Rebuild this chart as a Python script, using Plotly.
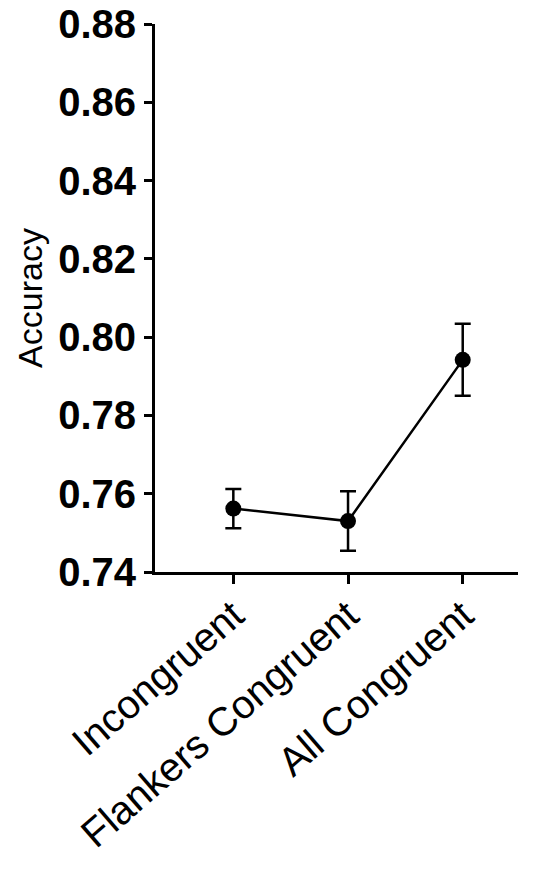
import plotly.graph_objects as go

categories = ["Incongruent", "Flankers Congruent", "All Congruent"]
accuracy = [0.7562, 0.7530, 0.7942]
sem = [0.0050, 0.0076, 0.0092]
y_ticks = [0.74, 0.76, 0.78, 0.80, 0.82, 0.84, 0.86, 0.88]

FONT = "Liberation Sans, Arial, sans-serif"

fig = go.Figure()
fig.add_trace(go.Scatter(
    x=list(range(len(categories))),
    y=accuracy,
    mode="lines+markers",
    line=dict(color="black", width=2.5),
    marker=dict(color="black", size=16),
    error_y=dict(type="data", array=sem, visible=True, color="black", thickness=2.5, width=8),
    showlegend=False,
))

fig.update_layout(
    width=533, height=874,
    margin=dict(l=155, r=15, t=24, b=302),
    plot_bgcolor="white", paper_bgcolor="white",
    font=dict(family=FONT, color="black"),
    xaxis=dict(
        range=[-0.683, 2.482],
        tickmode="array", tickvals=list(range(len(categories))), ticktext=categories,
        tickangle=-41,
        tickfont=dict(family=FONT, size=40, color="black"),
        ticklabelstandoff=-8,
        showline=True, linecolor="black", linewidth=3,
        ticks="outside", ticklen=9, tickwidth=3, tickcolor="black",
        showgrid=False, zeroline=False, automargin=False,
    ),
    yaxis=dict(
        range=[0.74, 0.88],
        tickmode="array", tickvals=y_ticks, ticktext=[f"{v:.2f}" for v in y_ticks],
        tickfont=dict(family=FONT, size=40, color="black", weight="bold"),
        showline=True, linecolor="black", linewidth=3,
        ticks="outside", ticklen=8, tickwidth=3, tickcolor="black",
        showgrid=False, zeroline=False, automargin=False,
        title=dict(text="Accuracy", font=dict(family=FONT, size=34, color="black"), standoff=6),
    ),
)

fig.write_html("out.html")
